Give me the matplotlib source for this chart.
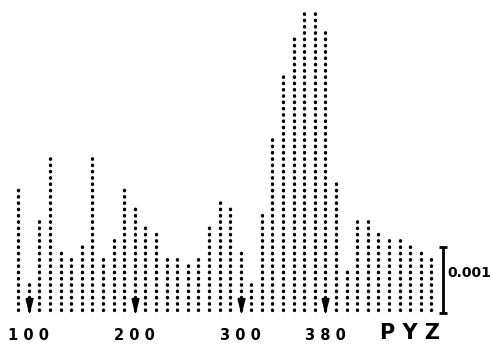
import numpy as np
import matplotlib
matplotlib.use("Agg")
import matplotlib.pyplot as plt

# wavenumber positions (cm-1) and peak heights in units of the 0.001 scale bar
positions = np.arange(90, 490, 10)
heights = [1.89, 0.44, 1.42, 2.38, 0.92, 0.83, 1.03, 2.38, 0.82, 1.12,
           1.89, 1.61, 1.32, 1.22, 0.83, 0.83, 0.73, 0.83, 1.32, 1.70,
           1.61, 0.92, 0.44, 1.52, 2.61, 3.58, 4.15, 4.53, 4.53, 4.25,
           2.00, 0.63, 1.41, 1.41, 1.22, 1.12, 1.12, 1.03, 0.92, 0.83]
marked = [100, 200, 300, 380]
tick_text = ["1 0 0", "2 0 0", "3 0 0", "3 8 0"]
scale_value = 1.0
scale_text = "0.001"
label = "P Y Z"

fig = plt.figure(figsize=(4.94, 3.51), dpi=100)
ax = fig.add_axes([0, 0, 1, 1])
ax.set_xlim(72.7, 539.2)
ax.set_ylim(-0.621, 4.697)
ax.axis("off")

# dotted sticks
lines = ax.vlines(positions, 0, heights, colors="black", linewidth=2.4,
                  linestyles=[(0, (0.15, 1.74))])
lines.set_capstyle("round")

# arrows under marked bands
arrow = [(-1, 2), (1, 2), (0, -2), (-1, 2)]
ax.plot(marked, [0.076] * len(marked), linestyle="none", marker=arrow,
        markersize=10, color="black")

for pos, txt in zip(marked, tick_text):
    ax.text(pos, -0.379, txt, ha="center", va="center", fontsize=10.5,
            fontweight="bold")

ax.text(459.9, -0.348, label, ha="center", va="center", fontsize=15,
        fontweight="bold")

# scale bar
ax.errorbar([491], [scale_value / 2 - 0.04], yerr=scale_value / 2,
            color="black", linewidth=2, capsize=3, capthick=2)
ax.text(494.8, 0.56, scale_text, ha="left", va="center", fontsize=10,
        fontweight="bold")

fig.savefig("out.png", dpi=100)
